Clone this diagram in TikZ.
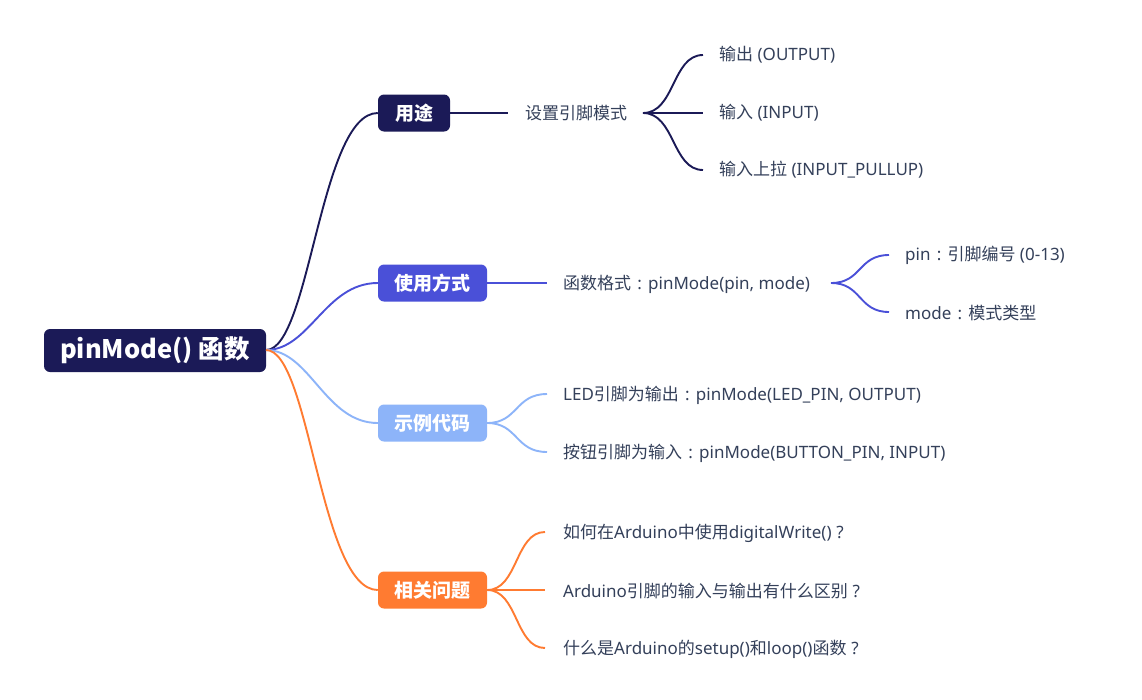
\documentclass[tikz,border=0pt]{standalone}
\usepackage{fontspec}
\setmainfont{Noto Sans}
\newfontfamily\zh{Noto Sans CJK SC}
\newcommand{\fc}{\makebox[1em]{:}}
\newcommand{\fq}{\makebox[1em]{?}}
\definecolor{cnavy}{HTML}{1B1A57}
\definecolor{cviolet}{HTML}{4A50D8}
\definecolor{clight}{HTML}{8DB4F9}
\definecolor{corange}{HTML}{FF7B31}
\definecolor{ctext}{HTML}{34405A}
\tikzset{
  box/.style={rounded corners=6pt, inner sep=0pt, text=white, font=\zh\fontsize{19}{21}\selectfont\bfseries, minimum height=37pt},
  leaf/.style={anchor=west, inner sep=0pt, text=ctext, font=\fontsize{17}{19}\selectfont},
  link/.style={line width=1.9pt},
}
\begin{document}
\begin{tikzpicture}[x=1pt,y=-1pt]
\useasboundingbox[fill=white] (0,0) rectangle (1142,699);
% nodes
\node[box, fill=cnavy, minimum width=222pt, minimum height=43pt, font=\zh\fontsize{25.5}{28}\selectfont\bfseries] (root) at (155,350.5) {pinMode() 函数};
\node[box, fill=cnavy, minimum width=72pt] (yt) at (414,113) {用途};
\node[box, fill=cviolet, minimum width=109pt] (syfs) at (432.5,283) {使用方式};
\node[box, fill=clight, minimum width=109pt] (sldm) at (432.5,423) {示例代码};
\node[box, fill=corange, minimum width=109pt] (xgwt) at (432.5,590) {相关问题};

\node[leaf] (sz) at (525,113) {\zh 设置引脚模式};
\node[leaf] (o1) at (719,55) {{\zh 输出} (OUTPUT)};
\node[leaf] (o2) at (719,113) {{\zh 输入} (INPUT)};
\node[leaf] (o3) at (719,170) {{\zh 输入上拉} (INPUT\_PULLUP)};

\node[leaf] (hs) at (563,284) {{\zh 函数格式}\fc pinMode(pin, mode)};
\node[leaf] (p1) at (905,255) {pin\fc{\zh 引脚编号} (0-13)};
\node[leaf] (p2) at (905,313) {mode\fc{\zh 模式类型}};

\node[leaf] (e1) at (563,395) {LED{\zh 引脚为输出}\fc pinMode(LED\_PIN, OUTPUT)};
\node[leaf] (e2) at (563,453) {{\zh 按钮引脚为输入}\fc pinMode(BUTTON\_PIN, INPUT)};

\node[leaf] (q1) at (563,533) {{\zh 如何在}Arduino{\zh 中使用}digitalWrite()\fq};
\node[leaf] (q2) at (563,591) {Arduino{\zh 引脚的输入与输出有什么区别}\fq};
\node[leaf] (q3) at (563,649) {{\zh 什么是}Arduino{\zh 的}setup(){\zh 和}loop(){\zh 函数}\fq};

% coordinates for branch ends
\coordinate (r0) at (266,350);
\coordinate (a0) at (508,113);
\coordinate (a1) at (643,113);
\coordinate (a2) at (703,55);
\coordinate (a3) at (703,113);
\coordinate (a4) at (703,170);
\coordinate (b0) at (547,283);
\coordinate (b1) at (831,283);
\coordinate (b2) at (889,255);
\coordinate (b3) at (889,312);
\coordinate (c1) at (547,394);
\coordinate (c2) at (547,452);
\coordinate (d1) at (545,532);
\coordinate (d2) at (545,590);
\coordinate (d3) at (545,648);

% root links
\draw[link, cnavy] (r0) .. controls (310,350) and (320,113) .. (yt.west);
\draw[link, cviolet] (r0) .. controls (310,350) and (325,283) .. (syfs.west);
\draw[link, clight] (r0) .. controls (310,350) and (325,423) .. (sldm.west);
\draw[link, corange] (r0) .. controls (310,350) and (320,590) .. (xgwt.west);

% 用途
\draw[link, cnavy] (yt.east) -- (a0);
\draw[link, cnavy] (a1) .. controls (675,113) and (672,55) .. (a2);
\draw[link, cnavy] (a1) -- (a3);
\draw[link, cnavy] (a1) .. controls (675,113) and (672,170) .. (a4);

% 使用方式
\draw[link, cviolet] (syfs.east) -- (b0);
\draw[link, cviolet] (b1) .. controls (862,283) and (858,255) .. (b2);
\draw[link, cviolet] (b1) .. controls (862,283) and (858,312) .. (b3);

% 示例代码
\draw[link, clight] (sldm.east) .. controls (518,423) and (515,394) .. (c1);
\draw[link, clight] (sldm.east) .. controls (518,423) and (515,452) .. (c2);

% 相关问题
\draw[link, corange] (xgwt.east) .. controls (518,590) and (515,532) .. (d1);
\draw[link, corange] (xgwt.east) -- (d2);
\draw[link, corange] (xgwt.east) .. controls (518,590) and (515,648) .. (d3);
\end{tikzpicture}
\end{document}
